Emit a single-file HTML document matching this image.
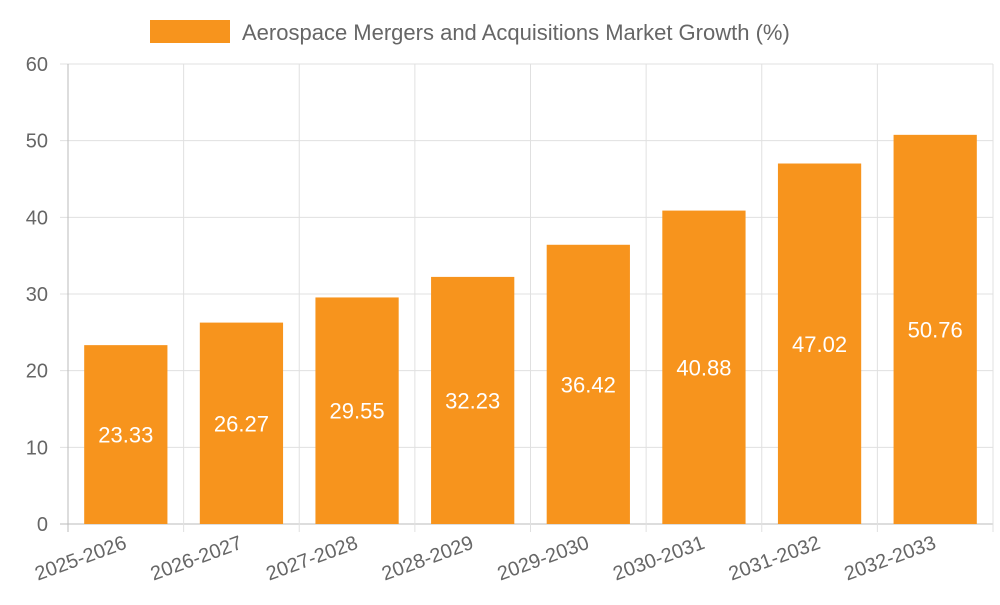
<!DOCTYPE html>
<html><head><meta charset="utf-8"><style>
body{margin:0;background:#fff;width:1000px;height:600px;overflow:hidden;font-family:"Liberation Sans",sans-serif}
</style></head><body>
<svg id="chart" width="1000" height="600" xmlns="http://www.w3.org/2000/svg">
<g id="legend">
<rect x="150" y="20" width="80" height="23" fill="#f7941d"/>
<text x="242" y="40" font-size="22" fill="#666">Aerospace Mergers and Acquisitions Market Growth (%)</text>
</g>
<g id="grid"></g><g id="bars"></g><g id="labels"></g>
</svg>
<script>
const categories=["2025-2026","2026-2027","2027-2028","2028-2029","2029-2030","2030-2031","2031-2032","2032-2033"];
const values=[23.33,26.27,29.55,32.23,36.42,40.88,47.02,50.76];
const yTicks=[0,10,20,30,40,50,60];
const NS="http://www.w3.org/2000/svg";
const L=68,R=993,T=64,B=524,yMax=60;
const band=(R-L)/categories.length;
const y=v=>B-(v/yMax)*(B-T);
const x=i=>L+i*band;
function mk(tag,attrs,parent,text){const e=document.createElementNS(NS,tag);for(const k in attrs)e.setAttribute(k,attrs[k]);if(text!=null)e.textContent=text;parent.appendChild(e);return e;}
const grid=document.getElementById('grid'),bars=document.getElementById('bars'),labels=document.getElementById('labels');
yTicks.forEach(t=>{
 const ln=mk('line',{x1:60,x2:R,y1:y(t),y2:y(t),stroke:t===0?'#bbb':'#e0e0e0','stroke-width':1},grid);
 
 
 const tx=mk('text',{x:48,y:y(t)+7,'text-anchor':'end','font-size':20,fill:'#666'},labels,String(t));
 
 
});
for(let i=0;i<=categories.length;i++){
 const ln=mk('line',{x1:x(i),x2:x(i),y1:T,y2:B+8,stroke:i===0?'#bbb':'#e0e0e0','stroke-width':1},grid);
 
 
}
const bw=band*0.72;
categories.forEach((c,i)=>{
 const cx=x(i)+band/2,v=values[i];
 const r=mk('rect',{x:cx-bw/2,y:y(v),width:bw,height:B-y(v),fill:'#f7941d'},bars);
 
 
 const vl=mk('text',{x:cx,y:(y(v)+B)/2+8,'text-anchor':'middle','font-size':22,fill:'#fff'},labels,v.toFixed(2));
 
 
 const xl=mk('text',{x:cx+2,y:B+24,'text-anchor':'end','font-size':20,fill:'#666',transform:`rotate(-20 ${cx+2} ${B+24})`},labels,c);
 
 
});
</script>
</body></html>
